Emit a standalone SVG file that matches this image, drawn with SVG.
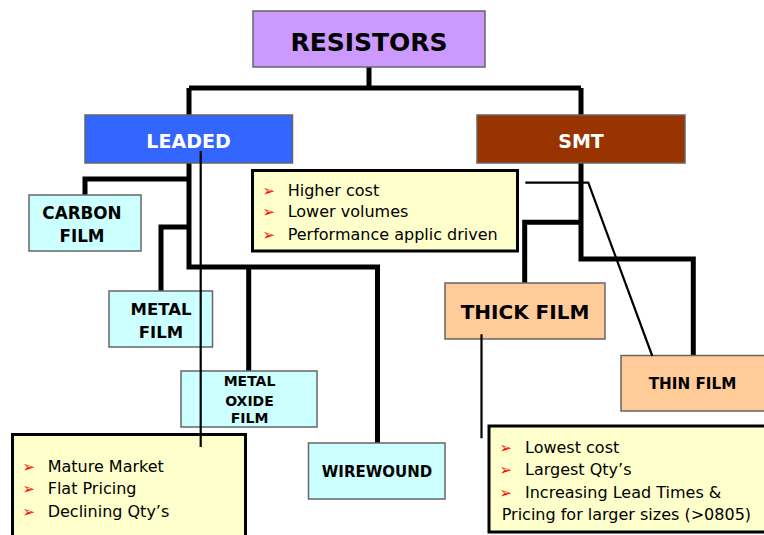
<svg xmlns="http://www.w3.org/2000/svg" width="764" height="535" viewBox="0 0 764 535">
<style>
.node{stroke:#666;stroke-width:1.5}
.lbl{font-family:"DejaVu Sans",Verdana,sans-serif;font-weight:bold;text-anchor:middle;fill:#000}
.wl{fill:#fff}
.note{fill:#FFFFCC;stroke:#000;stroke-width:3}
.nt{font-family:"DejaVu Sans",Verdana,sans-serif;font-size:16px;fill:#000}
.bul{font-family:"DejaVu Sans",sans-serif;font-size:15px;fill:#FF0000}
.thick{fill:none;stroke:#000;stroke-width:5;stroke-linejoin:miter}
.thin{fill:none;stroke:#000;stroke-width:2.2}
.film{fill:#CCFFFF}
.smtf{fill:#FFCC99}
</style>
<rect width="764" height="535" fill="#fff"/>
<g id="connectors">
<path class="thick" d="M369,67 V88 M189,88 H581 M189,88 V115 M581,88 V115"/>
<path class="thick" d="M189,163 V267 H377.5 V443 M189,179 H85 V195 M189,227 H161 V291 M248.7,267 V371"/>
<path class="thick" d="M581,163 V259 H693.3 V355 M581,222.3 H524.7 V283"/>
</g>
<g id="resistors"><rect class="node" x="253" y="11" width="232" height="56" fill="#CC99FF"/><text class="lbl" x="369" y="50.5" font-size="25">RESISTORS</text></g>
<g id="leaded"><rect class="node" x="85" y="115" width="207.5" height="48" fill="#3366FF"/><text class="lbl wl" x="188.5" y="147.5" font-size="19">LEADED</text></g>
<g id="smt"><rect class="node" x="477" y="115" width="208" height="48" fill="#993300"/><text class="lbl wl" x="581" y="147.5" font-size="19">SMT</text></g>
<g id="carbon-film"><rect class="node film" x="29" y="195" width="112" height="56"/><text class="lbl" x="82" y="219.3" font-size="16.8">CARBON</text><text class="lbl" x="82" y="241.7" font-size="16.8">FILM</text></g>
<g id="metal-film"><rect class="node film" x="109" y="291" width="103.5" height="56"/><text class="lbl" x="161" y="315" font-size="16.5">METAL</text><text class="lbl" x="161" y="337.7" font-size="16.5">FILM</text></g>
<g id="metal-oxide-film"><rect class="node film" x="181" y="371" width="136" height="56"/><text class="lbl" x="249.5" y="386" font-size="14">METAL</text><text class="lbl" x="249.5" y="405.5" font-size="14">OXIDE</text><text class="lbl" x="249.5" y="423.3" font-size="14">FILM</text></g>
<g id="wirewound"><rect class="node film" x="308.5" y="443" width="136.5" height="56"/><text class="lbl" x="377" y="477.3" font-size="15">WIREWOUND</text></g>
<g id="thick-film"><rect class="node smtf" x="445" y="283" width="160" height="56"/><text class="lbl" x="525" y="319.3" font-size="20">THICK FILM</text></g>
<g id="thin-film"><rect class="node smtf" x="621" y="355.5" width="150" height="55.5"/><text class="lbl" x="692.5" y="389.3" font-size="15.2">THIN FILM</text></g>
<g id="note-leaded"><rect class="note" x="12.5" y="434.5" width="233" height="110"/>
<text class="bul" x="22.5" y="471.5">➢</text><text class="nt" x="47.7" y="471.7">Mature Market</text>
<text class="bul" x="22.5" y="494">➢</text><text class="nt" x="47.7" y="494.3">Flat Pricing</text>
<text class="bul" x="22.5" y="516.5">➢</text><text class="nt" x="47.7" y="516.7">Declining Qty’s</text></g>
<g id="note-smt"><rect class="note" x="252.5" y="170.5" width="265" height="80.5"/>
<text class="bul" x="262.5" y="195.5">➢</text><text class="nt" x="287.7" y="195.7">Higher cost</text>
<text class="bul" x="262.5" y="217">➢</text><text class="nt" x="287.7" y="217.3">Lower volumes</text>
<text class="bul" x="262.5" y="239.8">➢</text><text class="nt" x="287.7" y="240">Performance applic driven</text></g>
<g id="note-thick"><rect class="note" x="489" y="426" width="290" height="106"/>
<text class="bul" x="499.5" y="453">➢</text><text class="nt" x="525" y="453.3">Lowest cost</text>
<text class="bul" x="499.5" y="474.8">➢</text><text class="nt" x="525" y="475">Largest Qty’s</text>
<text class="bul" x="499.5" y="497.5">➢</text><text class="nt" x="525" y="497.7">Increasing Lead Times &amp;</text>
<text class="nt" x="501.7" y="520">Pricing for larger sizes (&gt;0805)</text></g>
<g id="callout-lines">
<path class="thin" d="M200.7,151 V447"/>
<path class="thin" d="M525.3,182.7 H588.3 L652.3,356"/>
<path class="thin" d="M481.5,334.3 V438.3"/>
</g>
</svg>
